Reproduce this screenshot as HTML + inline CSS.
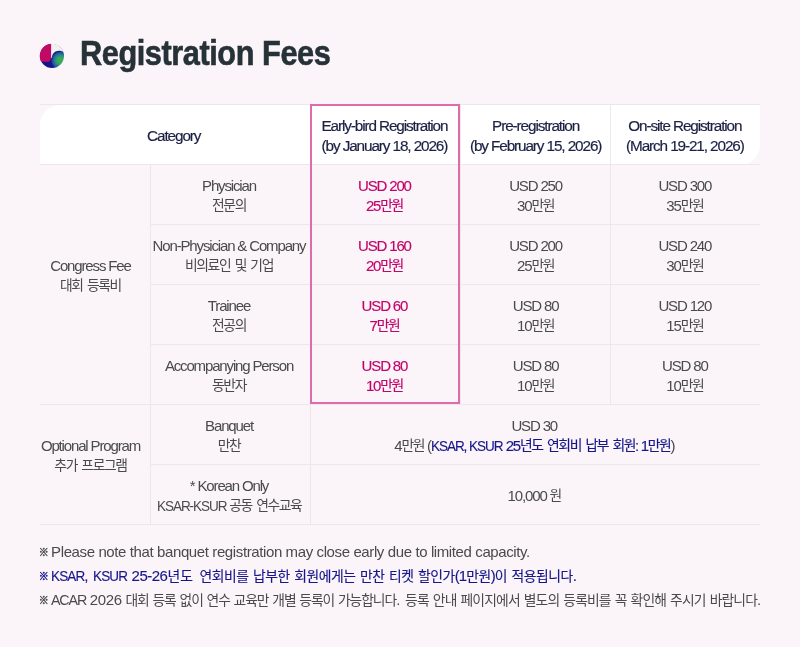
<!DOCTYPE html>
<html lang="ko">
<head>
<meta charset="utf-8">
<title>Registration Fees</title>
<style>
html,body{margin:0;padding:0;}
body{width:800px;height:647px;background:#fbf5fa;font-family:"Liberation Sans","Noto Sans CJK KR",sans-serif;color:#4a4a4a;position:relative;overflow:hidden;}
.title{position:absolute;left:80.4px;top:30.9px;font-size:34.5px;font-weight:bold;color:#263238;letter-spacing:-0.5px;-webkit-text-stroke:0.6px #263238;line-height:44px;white-space:nowrap;transform-origin:0 0;transform:scaleX(0.891);}
.icon{position:absolute;left:39px;top:43px;width:26px;height:26px;}
table{position:absolute;left:40px;top:104px;width:720px;border-collapse:collapse;table-layout:fixed;font-size:15px;line-height:20px;letter-spacing:-1.15px;white-space:nowrap;}
td,th{height:55px;padding:4px 2px 0 0;text-align:center;vertical-align:middle;border-top:1px solid #ede7ec;border-bottom:1px solid #ede7ec;border-left:1px solid #ede7ec;font-weight:normal;}
td.c1,th.first{border-left:none;}
td.c1{padding:0 8.6px 16.8px 0;height:auto;}
.c3{padding-right:1.2px;}
.c4{padding-right:0;padding-left:1.2px;}
.c5{padding-right:0.8px;}
th{background:#fff;color:#1b2044;font-size:15.3px;letter-spacing:-1.1px;padding-top:3px;height:56px;-webkit-text-stroke:0.18px #1b2044;}
th.first{border-top-left-radius:20px;}
th.last{border-bottom-right-radius:20px;}
td.eb{color:#c2056a;-webkit-text-stroke:0.15px #c2056a;}
.hl{position:absolute;left:310px;top:104px;width:146px;height:296px;border:2px solid #de6caa;pointer-events:none;}
.k{font-size:13.8px;letter-spacing:-1.4px;word-spacing:2px;position:relative;top:-1px;}
.cp{display:inline-block;transform:scaleX(.9);transform-origin:0 50%;margin-right:-3.8px;}
.navy{color:#17178a;-webkit-text-stroke:0.15px #17178a;}
.notes p{position:absolute;left:40px;margin:0;font-size:15px;line-height:24px;letter-spacing:0;white-space:nowrap;}
.notes .x{display:inline-block;width:11.1px;font-size:10px;font-weight:bold;font-family:"Noto Sans CJK KR",sans-serif;-webkit-text-stroke:0.45px currentColor;letter-spacing:0;position:relative;top:-1px;left:-1.2px;}
.notes .k{font-size:13.8px;letter-spacing:-0.7px;word-spacing:1px;top:-0.5px;}
#n1{letter-spacing:-0.39px;}
#n2{letter-spacing:-0.95px;word-spacing:1.75px;}
#n2 .k{letter-spacing:-0.42px;}
#n3{letter-spacing:-1.2px;word-spacing:3px;}
#n3 .k{letter-spacing:-1.06px;}
#n3 .k2{letter-spacing:-0.84px;}
</style>
</head>
<body>
<svg class="icon" width="26" height="26" viewBox="-1 -1 26 26">
<defs><radialGradient id="g" gradientUnits="userSpaceOnUse" cx="20.5" cy="16.5" r="14"><stop offset="0" stop-color="#3cab57"/><stop offset="0.22" stop-color="#38a659"/><stop offset="0.32" stop-color="#2a9878"/><stop offset="0.42" stop-color="#1f8390"/><stop offset="0.56" stop-color="#28509a"/><stop offset="0.68" stop-color="#17178c"/><stop offset="1" stop-color="#15158a"/></radialGradient></defs>
<circle cx="12" cy="12" r="12" fill="url(#g)"/>
<path d="M11 -0.27 A12.3 12.3 0 0 1 23.7 8.2 C21 6.2 15.5 5.8 12.6 10.4 L11.6 14 H11 Z" fill="#f0f2ee"/>
<path d="M11.1 -0.27 V13.2 C11.1 16.4 9.6 18 7 18 L1.05 17.6 A12.3 12.3 0 0 1 11.1 -0.27 Z" fill="#c00a66"/>
</svg>
<div class="title"><span id="t1">Registration</span> <span id="t2">Fees</span></div>
<table>
<colgroup><col style="width:110px"><col style="width:160px"><col style="width:150px"><col style="width:150px"><col style="width:150px"></colgroup>
<tr><th class="first" colspan="2">Category</th><th class="c3">Early-bird Registration<br>(by January 18, 2026)</th><th class="c4">Pre-registration<br>(by February 15, 2026)</th><th class="c5 last">On-site Registration<br>(March 19-21, 2026)</th></tr>
<tr><td class="c1" rowspan="4">Congress Fee<br><span class="k">대회 등록비</span></td><td class="c2">Physician<br><span class="k">전문의</span></td><td class="c3 eb">USD 200<br>25<span class="k">만원</span></td><td class="c4">USD 250<br>30<span class="k">만원</span></td><td class="c5">USD 300<br>35<span class="k">만원</span></td></tr>
<tr><td class="c2">Non-Physician &amp; Company<br><span class="k">비의료인 및 기업</span></td><td class="c3 eb">USD 160<br>20<span class="k">만원</span></td><td class="c4">USD 200<br>25<span class="k">만원</span></td><td class="c5">USD 240<br>30<span class="k">만원</span></td></tr>
<tr><td class="c2">Trainee<br><span class="k">전공의</span></td><td class="c3 eb">USD 60<br>7<span class="k">만원</span></td><td class="c4">USD 80<br>10<span class="k">만원</span></td><td class="c5">USD 120<br>15<span class="k">만원</span></td></tr>
<tr><td class="c2">Accompanying Person<br><span class="k">동반자</span></td><td class="c3 eb">USD 80<br>10<span class="k">만원</span></td><td class="c4">USD 80<br>10<span class="k">만원</span></td><td class="c5">USD 80<br>10<span class="k">만원</span></td></tr>
<tr><td class="c1" rowspan="2">Optional Program<br><span class="k">추가 프로그램</span></td><td class="c2">Banquet<br><span class="k">만찬</span></td><td class="cw" colspan="3">USD 30<br>4<span class="k">만원</span> (<span class="navy"><span class="cp">KSAR</span>, <span class="cp">KSUR</span> 25<span class="k">년도 연회비 납부 회원</span>:<span style="margin-left:2.6px">1</span><span class="k">만원</span></span>)</td></tr>
<tr><td class="c2">* Korean Only<br><span class="cp">KSAR</span>-<span class="cp">KSUR</span> <span class="k">공동 연수교육</span></td><td class="cw" colspan="3">10,000 <span class="k">원</span></td></tr>
</table>
<div class="hl"></div>
<div class="notes">
<p id="n1" style="top:540px"><span class="x">※</span>Please note that banquet registration may close early due to limited capacity.</p>
<p id="n2" class="navy" style="top:564px"><span class="x">※</span><span class="cp">KSAR</span>, <span class="cp">KSUR</span> <span style="letter-spacing:-0.5px">25-26</span><span class="k" style="letter-spacing:0.2px;margin-right:1.8px">년도</span><span class="k"> 연회비를 납부한 회원에게는 만찬 티켓 할인가</span>(1<span class="k">만원</span>)<span class="k">이 적용됩니다</span>.</p>
<p id="n3" style="top:588px"><span class="x">※</span><span style="word-spacing:0.8px"><span class="cp" style="transform:scaleX(.95);margin-right:-1.9px">ACAR</span> <span style="letter-spacing:-0.4px">2026</span> </span><span class="k">대회 등록 없이 연수 교육만 개별 등록이 가능합니다</span>. <span class="k k2">등록 안내 페이지에서 별도의 등록비를 꼭 확인해 주시기 바랍니다</span>.</p>
</div>
</body>
</html>
